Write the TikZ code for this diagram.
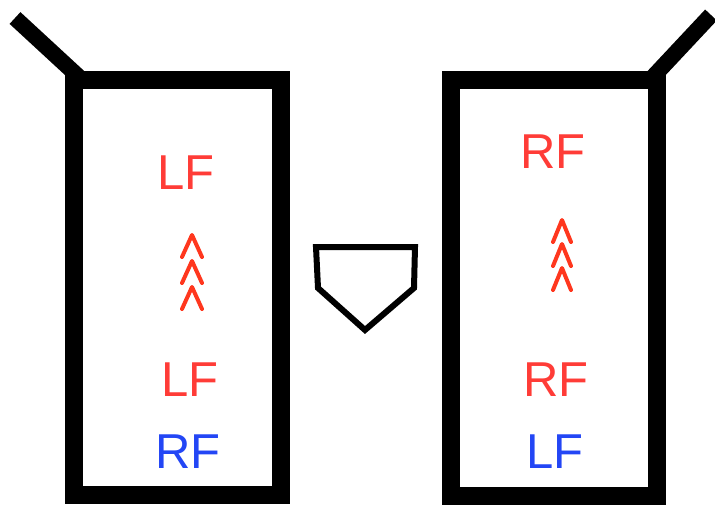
\documentclass[tikz,border=0pt]{standalone}
\usepackage{fontspec}
\setmainfont{Liberation Sans}
\definecolor{fred}{RGB}{255,60,55}
\definecolor{fblue}{RGB}{35,70,245}
\definecolor{caretred}{RGB}{255,55,30}
\begin{document}
\begin{tikzpicture}[x=1pt,y=-1pt,
  boxline/.style={draw=black,line width=18pt,line join=miter},
  armline/.style={draw=black,line width=16pt},
  plate/.style={draw=black,line width=6pt,line join=miter},
  lbl/.style={inner sep=0pt,font=\fontsize{49}{49}\selectfont},
  redlbl/.style={lbl,text=fred},
  bluelbl/.style={lbl,text=fblue},
  caret/.style={draw=caretred,line width=4pt,line cap=round,line join=round}]
\useasboundingbox (0,0) rectangle (715,506);
% left box
\coordinate (L1) at (74,80);
\coordinate (L2) at (281,495);
\draw[boxline] (L1) rectangle (L2);
\coordinate (LA) at (15,18);
\coordinate (LB) at (80,78);
\draw[armline] (LB) -- (LA);
% right box
\coordinate (R1) at (451,80);
\coordinate (R2) at (657,496);
\draw[boxline] (R1) rectangle (R2);
\coordinate (RA) at (711,15);
\coordinate (RB) at (652,78);
\draw[armline] (RB) -- (RA);
% home plate
\coordinate (P1) at (316,247);
\coordinate (P2) at (415,247);
\coordinate (P3) at (414,288);
\coordinate (P4) at (365,330);
\coordinate (P5) at (318,288);
\draw[plate] (P1) -- (P2) -- (P3) -- (P4) -- (P5) -- cycle;
% left labels
\node[redlbl] (lt) at (186,173) {LF};
\node[redlbl] (lb) at (190,380) {LF};
\node[bluelbl] (lbb) at (188,452) {RF};
% right labels
\node[redlbl] (rt) at (553,152) {RF};
\node[redlbl] (rb) at (556,380) {RF};
\node[bluelbl] (rbb) at (555,452) {LF};
% left carets
\foreach \t in {235,261,287}{
  \draw[caret] (182,\t+22) -- (192,\t) -- (202,\t+22);
}
% right carets
\foreach \t in {220,244,268}{
  \draw[caret] (553,\t+22) -- (562,\t) -- (571,\t+22);
}
\end{tikzpicture}
\end{document}
